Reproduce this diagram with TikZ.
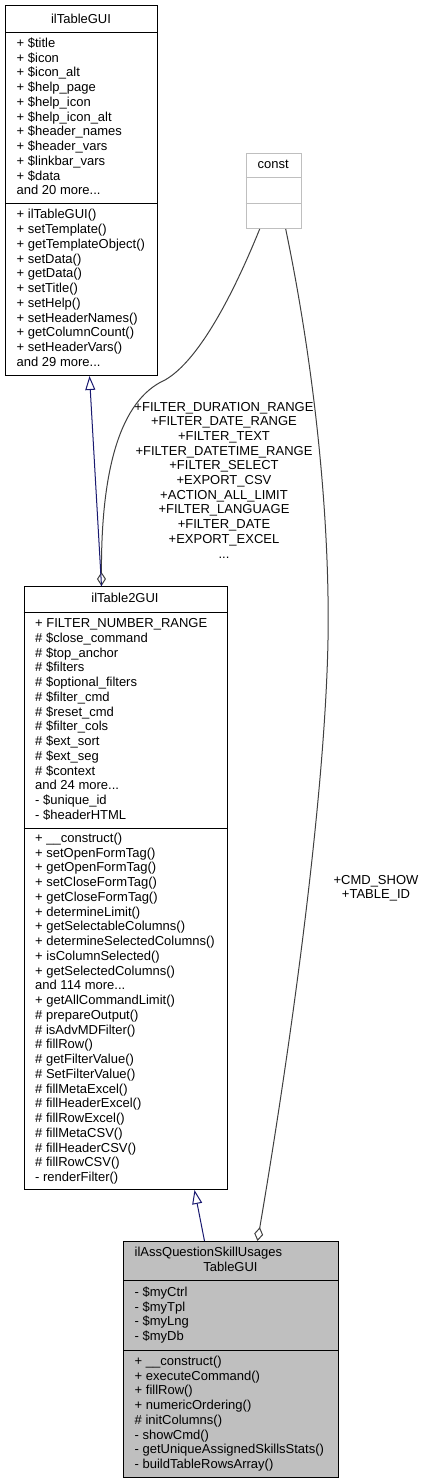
\documentclass[tikz,border=0pt]{standalone}
\usepackage{fontspec}
\setmainfont{Liberation Sans}
\usetikzlibrary{arrows.meta,calc}
\definecolor{midblue}{HTML}{191970}
\definecolor{greyA}{HTML}{404040}
\definecolor{greyB}{HTML}{BFBFBF}
\newcommand\tdots{.\kern0pt.\kern0pt.}
\newcommand\complines[4]{%
  \foreach \t [count=\i from 0] in {#4} {\node[txt] (#1\i) at ({#2},{#3+\i*14.75}) {\t};}}
\begin{document}
\begin{tikzpicture}[x=1pt,y=-1pt,
  box/.style={draw=black,line width=1pt,inner sep=0pt,anchor=north west},
  sepline/.style={draw=black,line width=1pt},
  txt/.style={font=\fontsize{13}{15}\selectfont,inner sep=0pt,anchor=base west},
  ctxt/.style={font=\fontsize{13}{15}\selectfont,inner sep=0pt,anchor=base},
  inh/.style={draw=midblue,line width=1pt,-{Triangle[open,length=14pt,width=10pt]}},
  agg/.style={draw=greyA,line width=1pt,{Diamond[open,length=14pt,width=9pt]}-}
]
\useasboundingbox (0,0) rectangle (427,1484);
\fill[white] (0,0) rectangle (427,1484);

% ilTableGUI
\node[box,minimum width=152pt,minimum height=370pt] (tg) at (5,5) {};
\draw[sepline] (5,32) -- (157,32);
\draw[sepline] (5,203) -- (157,203);
\node[ctxt] (tgt) at (81,23) {ilTableGUI};
\complines{tga}{16.5}{47.25}{+ \$title,+ \$icon,+ \$icon\_alt,+ \$help\_page,+ \$help\_icon,+ \$help\_icon\_alt,+ \$header\_names,+ \$header\_vars,+ \$linkbar\_vars,+ \$data,and 20 more\tdots}
\complines{tgm}{16.5}{218.75}{+ ilTableGUI(),+ setTemplate(),+ getTemplateObject(),+ setData(),+ getData(),+ setTitle(),+ setHelp(),+ setHeaderNames(),+ getColumnCount(),+ setHeaderVars(),and 29 more\tdots}

% const
\node[box,draw=greyB,minimum width=55pt,minimum height=75.3pt] (cst) at (245.7,152.7) {};
\draw[draw=greyB,line width=1pt] (245.7,177.7) -- (300.7,177.7);
\draw[draw=greyB,line width=1pt] (245.7,203) -- (300.7,203);
\node[ctxt] (cstt) at (273.2,168.7) {const};

% ilTable2GUI
\node[box,minimum width=203pt,minimum height=603pt] (t2) at (23.5,586) {};
\draw[sepline] (23.5,612) -- (226.5,612);
\draw[sepline] (23.5,828) -- (226.5,828);
\node[ctxt] (t2t) at (125,602.7) {ilTable2GUI};
\complines{t2a}{35}{627.6}{+ FILTER\_NUMBER\_RANGE,\# \$close\_command,\# \$top\_anchor,\# \$filters,\# \$optional\_filters,\# \$filter\_cmd,\# \$reset\_cmd,\# \$filter\_cols,\# \$ext\_sort,\# \$ext\_seg,\# \$context,and 24 more\tdots,- \$unique\_id,- \$headerHTML}
\complines{t2m}{35}{842.4}{+ \_\_construct(),+ setOpenFormTag(),+ getOpenFormTag(),+ setCloseFormTag(),+ getCloseFormTag(),+ determineLimit(),+ getSelectableColumns(),+ determineSelectedColumns(),+ isColumnSelected(),+ getSelectedColumns(),and 114 more\tdots,+ getAllCommandLimit(),\# prepareOutput(),\# isAdvMDFilter(),\# fillRow(),\# getFilterValue(),\# SetFilterValue(),\# fillMetaExcel(),\# fillHeaderExcel(),\# fillRowExcel(),\# fillMetaCSV(),\# fillHeaderCSV(),\# fillRowCSV(),- renderFilter()}

% ilAssQuestionSkillUsagesTableGUI
\node[box,fill=greyB,minimum width=215pt,minimum height=236pt] (ch) at (123,1241) {};
\draw[sepline] (123,1280) -- (338,1280);
\draw[sepline] (123,1350) -- (338,1350);
\node[txt] (cht1) at (134.5,1256.6) {ilAssQuestionSkillUsages};
\node[ctxt] (cht2) at (230.5,1271.4) {TableGUI};
\complines{cha}{134.5}{1296.4}{- \$myCtrl,- \$myTpl,- \$myLng,- \$myDb}
\complines{chm}{134.5}{1365.4}{+ \_\_construct(),+ executeCommand(),+ fillRow(),+ numericOrdering(),\# initColumns(),- showCmd(),- getUniqueAssignedSkillsStats(),- buildTableRowsArray()}

% connectors
\draw[agg] ([xshift=-24pt]t2.north) .. controls (101,470) and (120,400) .. (165,380) .. controls (200,360) and (235,290) .. ([xshift=-14pt]cst.south);
\draw[inh] ([xshift=-24pt]t2.north) -- ([xshift=8pt]tg.south);
\draw[agg] ([xshift=26.5pt]ch.north) .. controls (290,1050) and (325,800) .. (328,640) .. controls (330,520) and (315,370) .. ([xshift=12pt]cst.south);
\draw[inh] ([xshift=-26.5pt]ch.north) -- ([xshift=69pt]t2.south);

% labels
\foreach \t [count=\i from 0] in {+FILTER\_DURATION\_RANGE,+FILTER\_DATE\_RANGE,+FILTER\_TEXT,+FILTER\_DATETIME\_RANGE,+FILTER\_SELECT,+EXPORT\_CSV,+ACTION\_ALL\_LIMIT,+FILTER\_LANGUAGE,+FILTER\_DATE,+EXPORT\_EXCEL,\tdots} {\node[ctxt] (lab\i) at (224,{411+\i*14.7}) {\t};}
\node[ctxt] (rl1) at (376,884) {+CMD\_SHOW};
\node[ctxt] (rl2) at (376,898.7) {+TABLE\_ID};
\end{tikzpicture}
\end{document}
